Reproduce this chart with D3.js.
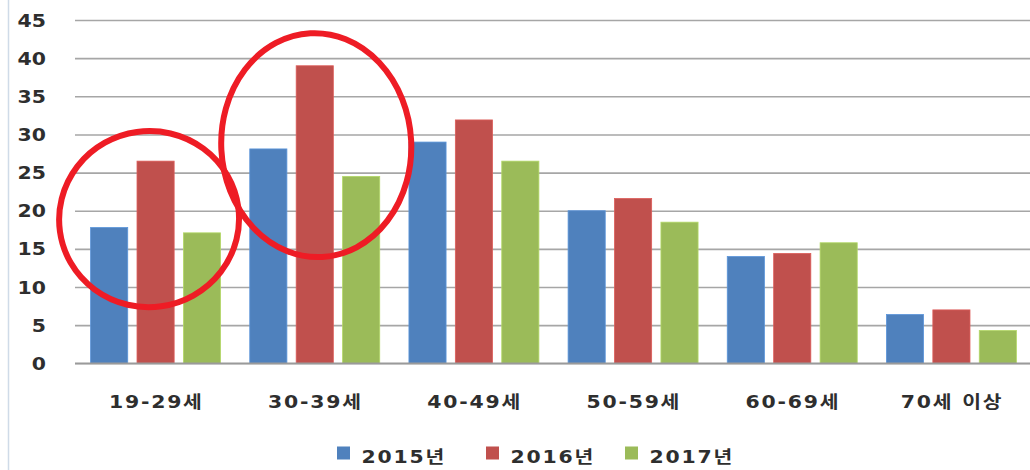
<!DOCTYPE html>
<html>
<head>
<meta charset="utf-8">
<script src="https://cdn.jsdelivr.net/npm/d3@7"></script>
<style>
  html, body { margin: 0; padding: 0; background: #fff; }
  svg { display: block; }
  text { font-family: "DejaVu Sans", "Noto Sans CJK KR", sans-serif; fill: #2e2e2e; font-weight: bold; }
</style>
</head>
<body>
<div id="chart"></div>
<script>
// ---- data ----
const categories = ["19-29세", "30-39세", "40-49세", "50-59세", "60-69세", "70세 이상"];
const seriesNames = ["2015년", "2016년", "2017년"];
const values2015 = [17.8, 28.1, 29.0, 20.0, 14.0, 6.4];
const values2016 = [26.5, 39.0, 31.9, 21.6, 14.4, 7.0];
const values2017 = [17.1, 24.5, 26.5, 18.5, 15.8, 4.3];
const yTicks = [0, 5, 10, 15, 20, 25, 30, 35, 40, 45];
// highlighted groups (annotation circles)
const highlightCats = ["19-29세", "30-39세"];

const colors = ["#4f81bd", "#c0504d", "#9bbb59"];
const seriesValues = [values2015, values2016, values2017];

const W = 1030, H = 470;
const plot = { left: 76, right: 1031, top: 20, bottom: 363.3 };
const SX = 1.2; // horizontal stretch of text like the reference
const FS = "17px";
const LS = "1.5px";

const svg = d3.select("#chart").append("svg").attr("width", W).attr("height", H);

// faint left border
svg.append("line").attr("x1", 8.5).attr("x2", 8.5).attr("y1", 0).attr("y2", H)
  .attr("stroke", "#cfdbe8").attr("stroke-width", 1.5);

const y = d3.scaleLinear().domain([0, 45]).range([plot.bottom, plot.top]);
const x0 = d3.scaleBand().domain(categories).range([plot.left, plot.right]).paddingInner(0).paddingOuter(0);
const bw = x0.bandwidth();
const groupPad = 14.6;
const x1 = d3.scaleBand().domain(seriesNames).range([groupPad, bw - groupPad]).paddingInner(0.2).paddingOuter(0);

// gridlines
const grid = svg.append("g").attr("transform", `translate(${plot.left - 1},0)`)
  .call(d3.axisLeft(y).tickValues(yTicks).tickSize(-(plot.right - plot.left + 1)).tickFormat(""));
grid.select(".domain").remove();
grid.selectAll("line").attr("stroke", "#a6a6a6").attr("stroke-width", 1.6);

// bars
const groups = svg.append("g").selectAll("g").data(categories).join("g")
  .attr("transform", d => `translate(${x0(d)},0)`);
groups.selectAll("rect")
  .data((c, ci) => seriesNames.map((s, si) => ({ s, si, v: seriesValues[si][ci] })))
  .join("rect")
  .attr("x", d => x1(d.s))
  .attr("width", x1.bandwidth())
  .attr("y", d => y(d.v))
  .attr("height", d => y(0) - y(d.v))
  .attr("fill", d => colors[d.si])
  .attr("stroke", d => d3.color(colors[d.si]).brighter(0.4))
  .attr("stroke-width", 0.8);

// baseline
svg.append("line").attr("x1", plot.left - 1).attr("x2", plot.right)
  .attr("y1", y(0)).attr("y2", y(0)).attr("stroke", "#9a9a9a").attr("stroke-width", 1.8);

// y axis labels
const yAx = svg.append("g").attr("transform", `translate(${plot.left},0)`)
  .call(d3.axisLeft(y).tickValues(yTicks).tickSize(0).tickPadding(0));
yAx.select(".domain").remove();
yAx.selectAll("text")
  .attr("x", -30 / SX)
  .attr("dy", "0.36em")
  .attr("transform", `scale(${SX},1)`)
  .style("font-size", FS)
  .style("font-family", "'DejaVu Sans', 'Noto Sans CJK KR', sans-serif")
  .style("font-weight", "bold")
  .style("fill", "#2e2e2e");

// x axis labels
const xAx = svg.append("g").attr("transform", `translate(0,${plot.bottom})`)
  .call(d3.axisBottom(x0).tickSize(0).tickPadding(0));
xAx.select(".domain").remove();
xAx.selectAll(".tick text")
  .attr("x", 0.6)
  .attr("y", 44.5)
  .attr("dy", 0)
  .attr("transform", `scale(${SX},1)`)
  .style("letter-spacing", LS)
  .style("font-size", FS)
  .style("font-family", "'DejaVu Sans', 'Noto Sans CJK KR', sans-serif")
  .style("font-weight", "bold")
  .style("fill", "#2e2e2e");

// legend
const legendX = [337, 486, 625];
const legend = svg.append("g").selectAll("g").data(seriesNames).join("g")
  .attr("transform", (d, i) => `translate(${legendX[i]},446.5)`);
legend.append("rect").attr("width", 13).attr("height", 13).attr("fill", (d, i) => colors[i]);
legend.append("text")
  .attr("x", 24.5 / SX).attr("y", 16.5)
  .attr("transform", `scale(${SX},1)`)
  .style("letter-spacing", LS)
  .style("font-size", FS)
  .text(d => d);

// annotation ellipses around highlighted groups
const ann = [
  { cat: highlightCats[0], v: 18.9, dx: -6.5, rx: 90, ry: 88, rot: -8 },
  { cat: highlightCats[1], v: 28.6, dx: 1.5, rx: 95, ry: 112, rot: -3 }
];
svg.append("g").selectAll("ellipse").data(ann).join("ellipse")
  .attr("cx", 0).attr("cy", 0)
  .attr("rx", d => d.rx).attr("ry", d => d.ry)
  .attr("transform", d => `translate(${x0(d.cat) + bw / 2 + d.dx},${y(d.v)}) rotate(${d.rot})`)
  .attr("fill", "none")
  .attr("stroke", "#ee1c25")
  .attr("stroke-width", 6);
</script>
</body>
</html>
